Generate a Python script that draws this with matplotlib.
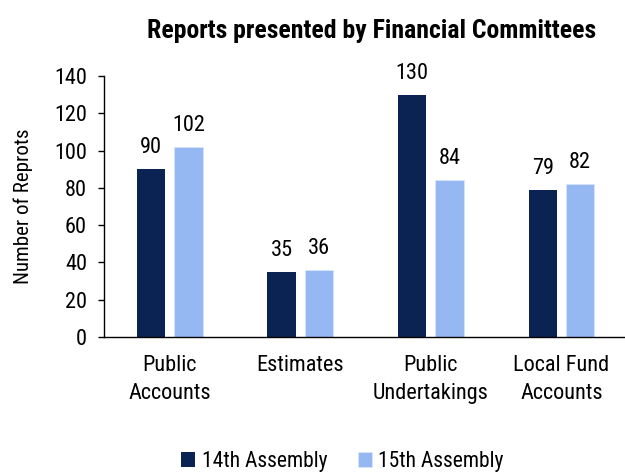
import matplotlib
matplotlib.use("Agg")
import matplotlib.pyplot as plt
import numpy as np
from matplotlib import font_manager

names = {f.name for f in font_manager.fontManager.ttflist}
pref = ["Liberation Sans Narrow", "Arial Narrow", "Roboto Condensed", "Archivo Narrow", "Liberation Sans"]
fam = [p for p in pref if p in names][:1]
plt.rcParams['font.family'] = fam + ["DejaVu Sans"]

categories = ["Public\nAccounts", "Estimates", "Public\nUndertakings", "Local Fund\nAccounts"]
series_names = ["14th Assembly", "15th Assembly"]
values_14 = [90, 35, 130, 79]
values_15 = [102, 36, 84, 82]
yticks = [0, 20, 40, 60, 80, 100, 120, 140]

dark = "#0A2352"
light = "#95B8F3"

fig = plt.figure(figsize=(6.25, 4.72), dpi=100)
ax = fig.add_axes([0.167, 0.286, 0.836, 0.553])

x = np.arange(len(categories))
w = 0.218
off = 0.143
b1 = ax.bar(x - off, values_14, w, color=dark, label=series_names[0])
b2 = ax.bar(x + off, values_15, w, color=light, edgecolor="#D6E4FB", linewidth=0.6, label=series_names[1])

fs = 16
for bars, vals in ((b1, values_14), (b2, values_15)):
    for r, v in zip(bars, vals):
        ax.annotate(str(v), (r.get_x() + r.get_width() / 2, v), xytext=(0, 8),
                    textcoords="offset points", ha="center", va="bottom", fontsize=fs)

ax.set_xlim(-0.5, 3.5)
ax.set_ylim(0, 140)
ax.set_yticks(yticks)
ax.set_xticks(x)
ax.set_xticklabels(categories, fontsize=fs, linespacing=1.45)
ax.tick_params(axis="x", length=0, pad=13)
ax.tick_params(axis="y", length=4.5, width=1, labelsize=fs, pad=8)
for s in ("top", "right"):
    ax.spines[s].set_visible(False)
ax.spines["left"].set_linewidth(1)
ax.spines["bottom"].set_linewidth(1)
ax.set_ylabel("Number of Reprots", fontsize=fs - 1)
ax.yaxis.set_label_coords(-0.137, 0.5)

fig.text(0.595, 0.935, "Reports presented by Financial Committees", ha="center", va="center",
         fontsize=18.5, fontweight="bold")

leg = fig.legend(handles=[b1, b2], labels=series_names, loc="center", bbox_to_anchor=(0.548, 0.022),
                 ncol=2, frameon=False, fontsize=15.5, handlelength=0.65, handleheight=0.65,
                 handletextpad=0.3, columnspacing=1.4)

fig.savefig("out.png", dpi=100)
